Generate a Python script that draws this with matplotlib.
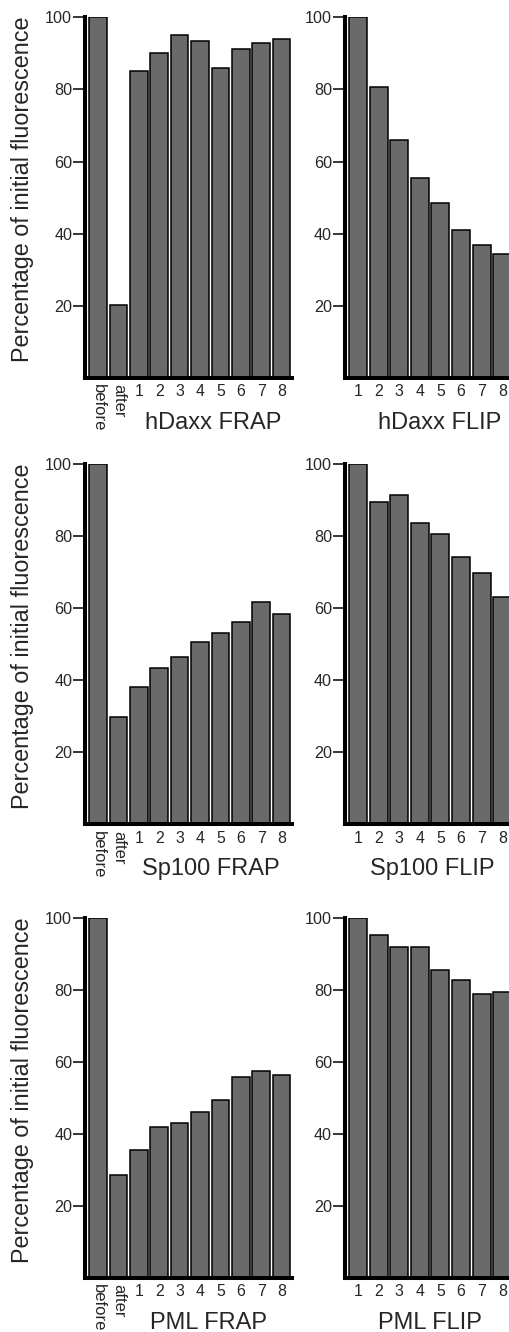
import matplotlib
matplotlib.use("Agg")
import matplotlib.pyplot as plt

plt.rcParams['font.family'] = ['Liberation Sans', 'DejaVu Sans']

# ---- data ----
frap_labels = ["before", "after", "1", "2", "3", "4", "5", "6", "7", "8"]
flip_labels = ["1", "2", "3", "4", "5", "6", "7", "8"]

hdaxx_frap = [100, 20.2, 85.1, 90.2, 95.2, 93.3, 85.9, 91.1, 92.8, 94.0]
hdaxx_flip = [100, 80.8, 66.1, 55.5, 48.6, 41.0, 37.0, 34.3]

sp100_frap = [100, 29.8, 38.1, 43.4, 46.4, 50.7, 53.2, 56.3, 61.8, 58.4]
sp100_flip = [100, 89.4, 91.5, 83.7, 80.7, 74.3, 69.7, 63.0]

pml_frap = [100, 28.6, 35.6, 41.9, 43.1, 46.2, 49.4, 55.7, 57.6, 56.4]
pml_flip = [100, 95.4, 92.0, 91.9, 85.5, 82.8, 78.9, 79.4]

titles_frap = ["hDaxx FRAP", "Sp100 FRAP", "PML FRAP"]
titles_flip = ["hDaxx FLIP", "Sp100 FLIP", "PML FLIP"]
yticks = [20, 40, 60, 80, 100]
ylabel = "Percentage of initial fluorescence"

# ---- layout (pixels) ----
W, H = 509, 1332
fig = plt.figure(figsize=(W / 100, H / 100), dpi=100)

rows = [(17.3, 378.0), (464.3, 824.3), (918.0, 1278.0)]
frap_x = (85.0, 292.0)
flip_x = (344.7, 512.0)
frap_title_x = [213, 211, 208]
flip_title_x = [440, 432, 430]

BAR_COLOR = "#6a6a6a"
TXT = "#262626"


def make_axes(x0, x1, ytop, ybot):
    return fig.add_axes([x0 / W, 1 - ybot / H, (x1 - x0) / W, (ybot - ytop) / H])


def style(ax):
    for s in ("top", "right"):
        ax.spines[s].set_visible(False)
    for s in ("left", "bottom"):
        ax.spines[s].set_linewidth(2.9)
        ax.spines[s].set_color("black")
        ax.spines[s].set_zorder(5)
    ax.set_ylim(0, 100)
    ax.set_yticks(yticks)
    ax.set_yticklabels([str(v) for v in yticks])
    ax.tick_params(axis="y", length=8.6, width=1.1, pad=0.6, labelsize=11.6,
                   colors="black", labelcolor=TXT)
    ax.tick_params(axis="x", length=0, pad=4.5, labelsize=11.4, labelcolor=TXT)


series = [(hdaxx_frap, hdaxx_flip), (sp100_frap, sp100_flip), (pml_frap, pml_flip)]

for r, ((ytop, ybot), (frap, flip)) in enumerate(zip(rows, series)):
    # FRAP panel
    ax = make_axes(frap_x[0], frap_x[1], ytop, ybot)
    xs = list(range(len(frap_labels)))
    ax.bar(xs, frap, width=0.87, color=BAR_COLOR, edgecolor="black", linewidth=1.1)
    ax.set_xlim(-0.637, 9.51)
    style(ax)
    ax.set_xticks(xs)
    ax.set_xticklabels(frap_labels)
    for i, lab in enumerate(ax.get_xticklabels()):
        if i < 2:
            lab.set_rotation(270)
            lab.set_fontsize(12)
    fig.text(frap_title_x[r] / W, 1 - (ybot + 51) / H, titles_frap[r],
             ha="center", va="baseline", fontsize=17, color=TXT)
    fig.text(22.5 / W, 1 - ((ytop + ybot) / 2 - 8) / H, ylabel, rotation=90,
             ha="center", va="center", fontsize=16.8, color=TXT)

    # FLIP panel
    ax2 = make_axes(flip_x[0], flip_x[1], ytop, ybot)
    xs2 = list(range(len(flip_labels)))
    ax2.bar(xs2, flip, width=0.87, color=BAR_COLOR, edgecolor="black", linewidth=1.1)
    ax2.set_xlim(-0.646, 7.476)
    style(ax2)
    ax2.set_xticks(xs2)
    ax2.set_xticklabels(flip_labels)
    fig.text(flip_title_x[r] / W, 1 - (ybot + 51) / H, titles_flip[r],
             ha="center", va="baseline", fontsize=17, color=TXT)

fig.savefig("out.png", dpi=100)
